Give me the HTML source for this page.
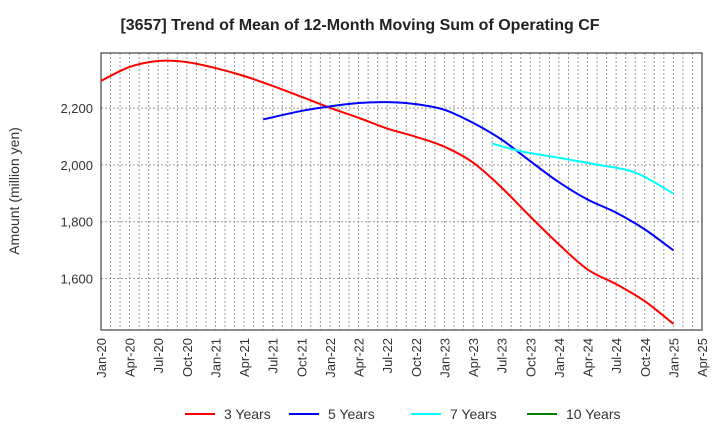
<!DOCTYPE html>
<html><head><meta charset="utf-8"><style>
body{margin:0;background:#fff;}
svg text{font-family:"Liberation Sans",Arial,sans-serif;fill:#333;}
</style></head><body>
<svg id="chart" width="720" height="440" xmlns="http://www.w3.org/2000/svg">
<text x="360" y="30" text-anchor="middle" font-size="16" font-weight="bold" style="fill:#222">[3657]  Trend of Mean of 12-Month Moving Sum of Operating CF</text>
<text transform="translate(19,191) rotate(-90)" text-anchor="middle" font-size="14">Amount (million yen)</text>
<g id="grid"></g>
<g id="axes"></g>
<g id="series"></g>
<g id="legend"></g>
</svg>
<script>
const xTickLabels=["Jan-20","Apr-20","Jul-20","Oct-20","Jan-21","Apr-21","Jul-21","Oct-21","Jan-22","Apr-22","Jul-22","Oct-22","Jan-23","Apr-23","Jul-23","Oct-23","Jan-24","Apr-24","Jul-24","Oct-24","Jan-25","Apr-25"];
const yTicks=[1600,1800,2000,2200];
const seriesNames=["3 Years","5 Years","7 Years","10 Years"];
const seriesColors=["#ff0000","#0000ff","#00ffff","#008000"];
const months3=[0,3,6,9,12,15,18,21,24,27,30,33,36,39,42,45,48,51,54,57,60];
const values3=[2296,2345,2366,2362,2341,2313,2278,2240,2201,2166,2128,2099,2064,2008,1920,1818,1720,1632,1580,1520,1440];
const months5=[17,21,24,27,30,33,36,39,42,45,48,51,54,57,60];
const values5=[2160,2190,2206,2218,2221,2214,2194,2148,2089,2013,1939,1878,1832,1773,1699];
const months7=[41,44,48,52,56,60];
const values7=[2075,2048,2025,2001,1973,1899];
const months10=[];
const values10=[];

const L=101,R=702,T=53,B=330,NM=63,YMIN=1418.6,YMAX=2394;
const xs=m=>L+(R-L)*m/NM;
const ys=v=>B-(B-T)*(v-YMIN)/(YMAX-YMIN);
const NS="http://www.w3.org/2000/svg";
function mk(tag,attrs,parent){const e=document.createElementNS(NS,tag);for(const k in attrs)e.setAttribute(k,attrs[k]);parent.appendChild(e);return e;}
const grid=document.getElementById('grid'),axes=document.getElementById('axes'),ser=document.getElementById('series'),leg=document.getElementById('legend');
for(let m=1;m<NM;m++){const l=mk('line',{x1:xs(m),x2:xs(m),y1:T,y2:B,stroke:'#999','stroke-width':1,'stroke-dasharray':'2,2'},grid);

}
yTicks.forEach(v=>{const l=mk('line',{x1:L,x2:R,y1:ys(v),y2:ys(v),stroke:'#999','stroke-width':1,'stroke-dasharray':'2,2'},grid);


const t=mk('text',{x:L-8,y:ys(v)+5,'text-anchor':'end','font-size':13},axes);t.textContent=v.toLocaleString('en-US');

});
const fr=mk('rect',{x:L,y:T,width:R-L,height:B-T,fill:'none',stroke:'#444','stroke-width':1.2},axes);


xTickLabels.forEach((s,i)=>{const x=xs(i*3);const t=mk('text',{transform:`translate(${x+5},${338}) rotate(-90)`,'text-anchor':'end','font-size':13},axes);t.textContent=s;

});
function smooth(pts){if(pts.length<2)return '';let d=`M${pts[0][0]},${pts[0][1]}`;for(let i=0;i<pts.length-1;i++){const p0=pts[i-1]||pts[i],p1=pts[i],p2=pts[i+1],p3=pts[i+2]||p2;
d+=` C${p1[0]+(p2[0]-p0[0])/6},${p1[1]+(p2[1]-p0[1])/6} ${p2[0]-(p3[0]-p1[0])/6},${p2[1]-(p3[1]-p1[1])/6} ${p2[0]},${p2[1]}`;}return d;}
[[months3,values3],[months5,values5],[months7,values7],[months10,values10]].forEach((s,i)=>{if(!s[0].length)return;
const p=mk('path',{d:smooth(s[0].map((m,j)=>[xs(m),ys(s[1][j])])),fill:'none',stroke:seriesColors[i],'stroke-width':2},ser);

});
const lx=[185,289,411,527];
seriesNames.forEach((n,i)=>{const l=mk('line',{x1:lx[i],x2:lx[i]+30,y1:414,y2:414,stroke:seriesColors[i],'stroke-width':2},leg);


const t=mk('text',{x:lx[i]+39,y:419,'font-size':14},leg);t.textContent=n;

});
</script>
</body></html>
